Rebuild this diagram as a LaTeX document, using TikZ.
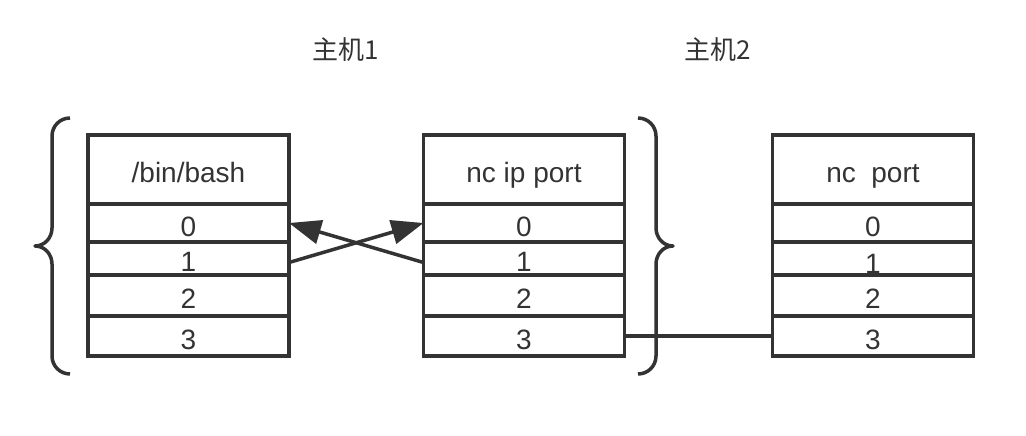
\documentclass[tikz,border=0pt]{standalone}
\usepackage{fontspec}
\setmainfont{Liberation Sans}
\newfontfamily\cjk{Noto Sans CJK SC}
\usetikzlibrary{arrows.meta}
\definecolor{ink}{HTML}{333333}

\begin{document}
\begin{tikzpicture}[x=1pt,y=-1pt,
	cell/.style={draw=ink,line width=3.5pt,inner sep=0,outer sep=0,minimum width=201pt,text=ink,text height=26pt,text depth=0pt,font=\fontsize{28}{32}\selectfont},
	host/.style={text=ink,font=\fontsize{26}{30}\selectfont\cjk},
	conn/.style={draw=ink,line width=3.5pt},
	brace/.style={draw=ink,line width=3.5pt,line join=round}]
	\useasboundingbox (0,0) rectangle (1026,436);
	\node[host] (host1) at (346,50) {主机1};
	\node[host] (host2) at (718,50) {主机2};
	% host 1: /bin/bash
	\node[cell,minimum height=69pt] (bash) at (188.5,169.5) {/bin/bash};
	\node[cell,minimum height=38pt] (bash0) at (188.5,223) {0};
	\node[cell,minimum height=33pt] (bash1) at (188.5,258.5) {1};
	\node[cell,minimum height=41pt] (bash2) at (188.5,295.5) {2};
	\node[cell,minimum height=40pt] (bash3) at (188.5,336) {3};
	% host 1: nc ip port
	\node[cell,minimum height=69pt] (ncip) at (524,169.5) {nc ip port};
	\node[cell,minimum height=38pt] (ncip0) at (524,223) {0};
	\node[cell,minimum height=33pt] (ncip1) at (524,258.5) {1};
	\node[cell,minimum height=41pt] (ncip2) at (524,295.5) {2};
	\node[cell,minimum height=40pt] (ncip3) at (524,336) {3};
	% host 2: nc port
	\node[cell,minimum height=69pt] (nc) at (873,169.5) {nc\ \ port};
	\node[cell,minimum height=38pt] (nc0) at (873,223) {0};
	\node[cell,minimum height=33pt,text height=30pt] (nc1) at (873,258.5) {1};
	\node[cell,minimum height=41pt] (nc2) at (873,295.5) {2};
	\node[cell,minimum height=40pt] (nc3) at (873,336) {3};
	\draw[conn,-{Triangle[length=32pt,width=24pt]}] ([yshift=-4pt]bash1.east) -- (ncip0.west);
	\draw[conn,-{Triangle[length=32pt,width=24pt]}] ([yshift=-4pt]ncip1.west) -- (bash0.east);
	\draw[conn] (ncip3.east) -- (nc3.west);
	% braces
	\draw[brace] (70,118) to[out=180,in=90] (52,136) -- (52,228) to[out=-90,in=0] (35,246)
		to[out=0,in=90] (52,264) -- (52,356) to[out=-90,in=180] (70,374);
	\draw[brace] (638,118) to[out=0,in=90] (656,136) -- (656,228) to[out=-90,in=180] (673,246)
		to[out=180,in=90] (656,264) -- (656,356) to[out=-90,in=0] (638,374);
\end{tikzpicture}
\end{document}
